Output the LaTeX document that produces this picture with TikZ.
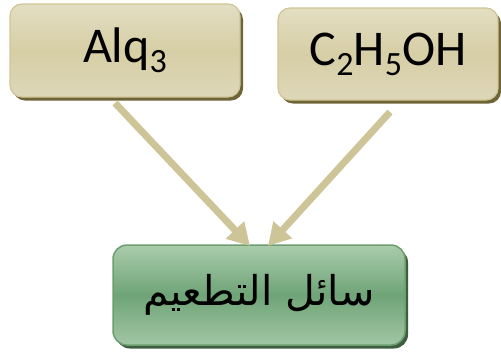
\documentclass[tikz,border=0pt]{standalone}
\usepackage{fontspec}
\setmainfont{Carlito}
\newfontfamily\calfont{Carlito}
\newfontfamily\arabicfont[Script=Arabic]{DejaVu Sans}
\TeXXeTstate=1
\usetikzlibrary{arrows.meta,shadows}
\definecolor{sandtop}{HTML}{E4DEC3}
\definecolor{sandmid}{HTML}{D6CEA5}
\definecolor{sandbot}{HTML}{DED7B8}
\definecolor{sandedge}{HTML}{CFC596}
\definecolor{sandshadow}{HTML}{6E6438}
\definecolor{leaftop}{HTML}{AACCAB}
\definecolor{leafmid}{HTML}{6FA477}
\definecolor{leafbot}{HTML}{A2C6A4}
\definecolor{leafedge}{HTML}{6C9F70}
\definecolor{leafshadow}{HTML}{3F5E40}
\definecolor{arrowsand}{HTML}{CDC597}
\newcommand{\lowsub}[1]{\raisebox{-0.2em}{\fontsize{34}{36}\selectfont #1}}
\tikzset{
  srcbox/.style={draw=sandedge, line width=1.2pt, rounded corners=12pt,
    top color=sandtop, bottom color=sandbot, middle color=sandmid,
    drop shadow={shadow xshift=3pt, shadow yshift=-3.5pt, fill=sandshadow, opacity=1},
    font=\calfont\fontsize{50}{54}\selectfont, inner sep=0pt},
  dstbox/.style={draw=leafedge, line width=1.5pt, rounded corners=14pt,
    top color=leaftop, bottom color=leafbot, middle color=leafmid,
    drop shadow={shadow xshift=3pt, shadow yshift=-3.5pt, fill=leafshadow, opacity=1},
    inner sep=0pt},
  flow/.style={draw=arrowsand, line width=7pt,
    -{Triangle[width=24pt,length=22pt]}}
}
\begin{document}
\begin{tikzpicture}[x=1pt,y=-1pt]
\useasboundingbox (0,0) rectangle (501,354);
\node[srcbox, minimum width=230pt, minimum height=93pt] (alq) at (125,50.5) {Alq\lowsub{3}};
\node[srcbox, minimum width=220pt, minimum height=92pt] (eth) at (388,54) {C\lowsub{2}H\lowsub{5}OH};
\node[dstbox, minimum width=292pt, minimum height=100pt] (liq) at (259,295)
  {\arabicfont\fontsize{41}{48}\selectfont\beginR سائل التطعيم\endR};
\coordinate (alqout) at (115,103);
\coordinate (ethout) at (390,112);
\coordinate (liqinl) at (250,246);
\coordinate (liqinr) at (268,246);
\draw[flow] (alqout) -- (liqinl);
\draw[flow] (ethout) -- (liqinr);
\end{tikzpicture}
\end{document}
